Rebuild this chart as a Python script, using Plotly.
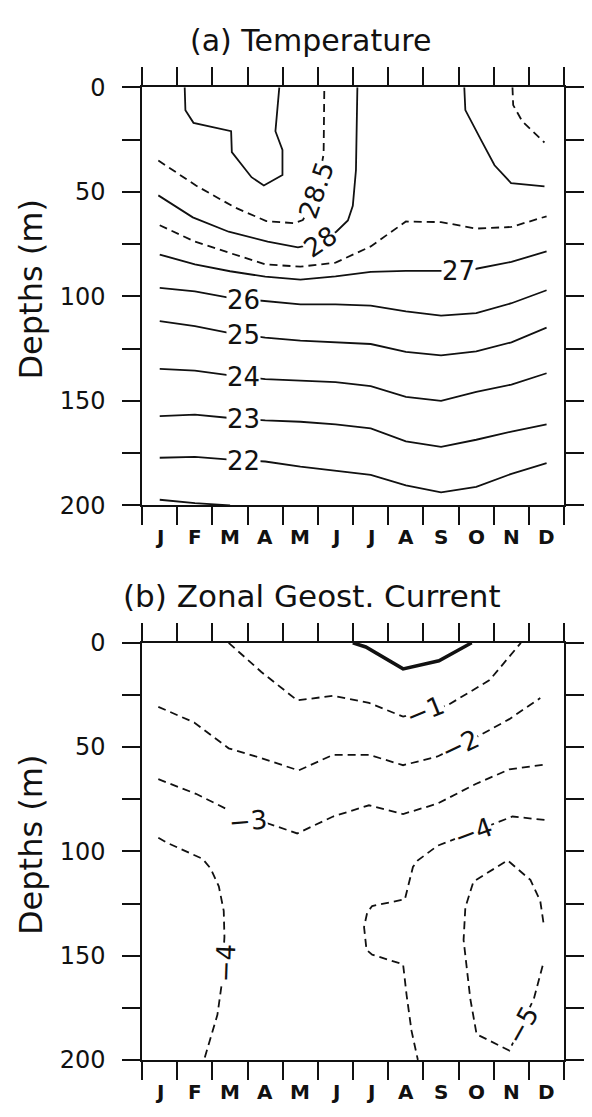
import plotly.graph_objects as go

# ---------------- data ----------------
months = ["J", "F", "M", "A", "M", "J", "J", "A", "S", "O", "N", "D"]
month_pos = [1, 2, 3, 4, 5, 6, 7, 8, 9, 10, 11, 12]
depth_ticks = [0, 25, 50, 75, 100, 125, 150, 175, 200]
depth_labels = ["0", "", "50", "", "100", "", "150", "", "200"]

# (a) Temperature isotherms: month positions and depths (m)
t29_x = [1.71, 1.73, 1.96, 3.03, 3.05, 3.61, 3.96, 4.49, 4.49, 4.29, 4.40]
t29_d = [0, 11, 17, 21, 31, 43, 47, 42, 30, 21, 0]
t285_left_x = [0.96, 2.03, 3.14, 4.03, 4.82, 5.07, 5.25, 5.5, 5.66, 5.68]
t285_left_d = [35, 47, 57.5, 64, 65, 63.5, 58, 46, 32, 0]
t285_right_x = [11.03, 11.05, 11.31, 11.94]
t285_right_d = [0, 8.5, 16.3, 26.4]
t28_left_x = [0.96, 1.94, 2.96, 4.07, 4.93, 5.5, 6.02, 6.35, 6.49, 6.58, 6.62]
t28_left_d = [51.7, 62.2, 69.1, 73.8, 76.6, 74.5, 69.1, 63.7, 56.7, 39.6, 0]
t28_right_x = [9.66, 9.69, 10.15, 10.52, 10.99, 11.94]
t28_right_d = [0, 10.9, 25.6, 37.3, 45.8, 47.4]
t275_d = [66, 73.8, 79.3, 84.7, 85.8, 83.9, 76.1, 64.2, 64.5, 67.6, 66.8, 61.7]
t27_d = [80, 84.7, 88, 90.6, 92, 90.4, 88.3, 87.8, 87.8, 86.8, 83.5, 78.5]
t26_d = [96, 97.6, 100.7, 102.3, 103.8, 103.8, 104.4, 107.2, 109.2, 108, 103.3, 97.1]
t25_d = [111.9, 114.2, 117.6, 119.7, 121.2, 122, 122.8, 126.6, 128.2, 126.3, 122, 115]
t24_d = [134.7, 135.5, 137.8, 139.6, 140.3, 141, 143, 148.1, 150, 145.7, 142.2, 136.8]
t23_d = [157.3, 156.6, 158.2, 159.3, 160, 161.2, 163.2, 169.4, 172, 168.6, 164.7, 161.3]
t22_d = [177.2, 176.8, 178.1, 179, 181.5, 183.4, 185.4, 190.4, 193.8, 191.1, 184.9, 179.8]
t21_x = [1, 2, 3]
t21_d = [197.3, 198.9, 200]

# (b) Zonal geostrophic current contours: month positions and depths (m)
u0_x = [6.49, 6.86, 7.92, 8.94, 9.87]
u0_d = [0, 2, 12.5, 8.6, 0]
u1_x = [2.96, 3.89, 4.91, 5.93, 6.95, 7.92, 9.18, 10.38, 11.27]
u1_d = [0, 14, 27.6, 25.4, 28.8, 35.4, 30, 17.9, 0]
u2_x = [0.96, 1.98, 2.96, 3.89, 4.95, 5.93, 6.95, 7.92, 8.9, 10.1, 10.94, 11.82]
u2_d = [30.7, 38.2, 50.6, 55.3, 61.2, 53.7, 53.7, 58.7, 54.5, 44.4, 36.6, 26.5]
u3_x = [0.96, 2.03, 2.96, 4.91, 5.93, 6.95, 7.92, 8.9, 9.97, 10.94, 11.94]
u3_d = [65.4, 72.4, 80.2, 91.4, 83.3, 77.9, 82.1, 77.1, 67.8, 60.7, 58.4]
u4_right_x = [11.94, 11.03, 8.9, 8.34, 8.2, 7.97, 7.04, 6.9, 6.81, 6.88, 7.04, 7.92, 8.02, 8.16, 8.34]
u4_right_d = [84.9, 83.3, 97.3, 104.3, 107.5, 123, 126.2, 129.3, 136.3, 147.2, 149.5, 154.2, 169, 186.1, 200]
u4_left_x = [0.96, 1.2, 2.22, 2.45, 2.68, 2.82, 2.84, 2.77, 2.64, 2.26]
u4_left_d = [93.5, 95.8, 103.6, 108.3, 116.8, 128.5, 141, 162.8, 178.4, 200]
u5_x = [11.91, 11.82, 11.54, 10.89, 9.92, 9.69, 9.64, 9.83, 10.01, 10.94, 11.64, 11.91]
u5_d = [134, 123.8, 113.7, 104.3, 114.5, 126.9, 142.5, 170.6, 187.7, 195.5, 170.6, 153.4]

# contour labels: text, month position, depth, angle
labels_a = [
    ("28.5", 5.45, 49, -71),
    ("28", 5.56, 74, -34),
    ("27", 9.5, 87.8, 0),
    ("26", 3.38, 101.6, 0),
    ("25", 3.38, 118.6, 0),
    ("24", 3.38, 138.8, 0),
    ("23", 3.38, 158.6, 0),
    ("22", 3.38, 178.6, 0),
]
labels_b = [
    ("−1", 8.53, 32.7, -22),
    ("−2", 9.55, 49, -25),
    ("−3", 3.52, 85.5, -5),
    ("−4", 9.92, 90.5, -20),
    ("−4", 2.87, 153.4, -88),
    ("−5", 11.29, 183.5, -61),
]

# ---------------- figure ----------------
# page is 592x1117; the html body keeps its default 8px margin
OFF = 8
W, H = 592 - 2 * OFF, 1117 - 2 * OFF
FONT = "DejaVu Sans"
INK = "#111111"
x_left, x_right = 145, 576          # page pixels
a_top, a_bot = 75, 504
b_top, b_bot = 645, 1073


def px(xp):
    return (xp - OFF) / W


def py(yp):
    return 1 - (yp - OFF) / H


fig = go.Figure()

SOLID = "solid"
DASH = "8px,5px"


def add_line(x, d, panel, dash=SOLID, width=1.8):
    fig.add_trace(go.Scatter(
        x=x, y=d, mode="lines",
        line=dict(color=INK, width=width, dash=dash),
        xaxis="x" if panel == "a" else "x2",
        yaxis="y" if panel == "a" else "y2",
        hoverinfo="skip", showlegend=False,
    ))


add_line(t29_x, t29_d, "a")
add_line(t285_left_x, t285_left_d, "a", DASH)
add_line(t285_right_x, t285_right_d, "a", DASH)
add_line(t28_left_x, t28_left_d, "a")
add_line(t28_right_x, t28_right_d, "a")
add_line(month_pos, t275_d, "a", DASH)
for dd in [t27_d, t26_d, t25_d, t24_d, t23_d, t22_d]:
    add_line(month_pos, dd, "a")
add_line(t21_x, t21_d, "a")

add_line(u0_x, u0_d, "b", SOLID, 3.5)
add_line(u1_x, u1_d, "b", DASH)
add_line(u2_x, u2_d, "b", DASH)
add_line(u3_x, u3_d, "b", DASH)
add_line(u4_right_x, u4_right_d, "b", DASH)
add_line(u4_left_x, u4_left_d, "b", DASH)
add_line(u5_x, u5_d, "b", DASH)


def xaxis_cfg(anchor):
    return dict(
        domain=[px(x_left), px(x_right)], range=[0.5, 12.5], anchor=anchor,
        tickmode="array", tickvals=[m - 0.5 for m in month_pos] + [12.5],
        ticktext=[""] * 13, ticks="outside", ticklen=18, tickwidth=1.6,
        tickcolor=INK, showline=True, linecolor=INK, linewidth=1.8,
        mirror="ticks", showgrid=False, zeroline=False, fixedrange=True,
    )


def yaxis_cfg(anchor, top, bot):
    return dict(
        domain=[py(bot), py(top)], range=[200, 0], anchor=anchor,
        tickmode="array", tickvals=depth_ticks, ticktext=depth_labels,
        ticks="outside", ticklen=18, tickwidth=1.6, tickcolor=INK,
        showline=True, linecolor=INK, linewidth=1.8, mirror="ticks",
        showgrid=False, zeroline=False, fixedrange=True,
        tickfont=dict(family=FONT, size=24, color=INK),
        ticklabelstandoff=12,
    )


annotations = []
for txt, x, y, ang in labels_a:
    annotations.append(dict(text=txt, x=x, y=y, xref="x", yref="y", showarrow=False,
                            textangle=ang, bgcolor="white", borderpad=0,
                            font=dict(family=FONT, size=26, color=INK)))
for txt, x, y, ang in labels_b:
    annotations.append(dict(text=txt, x=x, y=y, xref="x2", yref="y2", showarrow=False,
                            textangle=ang, bgcolor="white", borderpad=0,
                            font=dict(family=FONT, size=26, color=INK)))

for xr, bot in [("x", a_bot), ("x2", b_bot)]:
    for m, lab in zip(month_pos, months):
        annotations.append(dict(text=lab, x=m, y=py(bot), xref=xr, yref="paper",
                                yanchor="middle", yshift=-32, showarrow=False,
                                font=dict(family=FONT, size=20, color=INK, weight="bold")))

annotations.append(dict(text="(a) Temperature", x=px(317), y=py(27), xref="paper",
                        yref="paper", showarrow=False, xanchor="center", yanchor="middle",
                        font=dict(family=FONT, size=30, color=INK)))
annotations.append(dict(text="(b) Zonal Geost. Current", x=px(318), y=py(597),
                        xref="paper", yref="paper", showarrow=False, xanchor="center",
                        yanchor="middle", font=dict(family=FONT, size=31, color=INK)))
for top, bot in [(a_top, a_bot), (b_top, b_bot)]:
    annotations.append(dict(text="Depths (m)", x=px(31), y=py(top + 208),
                            xref="paper", yref="paper", showarrow=False, textangle=-90,
                            xanchor="center", yanchor="middle",
                            font=dict(family=FONT, size=32, color=INK)))

fig.update_layout(
    width=W, height=H, autosize=False,
    margin=dict(l=0, r=0, t=0, b=0),
    paper_bgcolor="white", plot_bgcolor="white",
    xaxis=xaxis_cfg("y"), yaxis=yaxis_cfg("x", a_top, a_bot),
    xaxis2=xaxis_cfg("y2"), yaxis2=yaxis_cfg("x2", b_top, b_bot),
    annotations=annotations, showlegend=False,
)

fig.write_html("out.html", config={"displayModeBar": False})
